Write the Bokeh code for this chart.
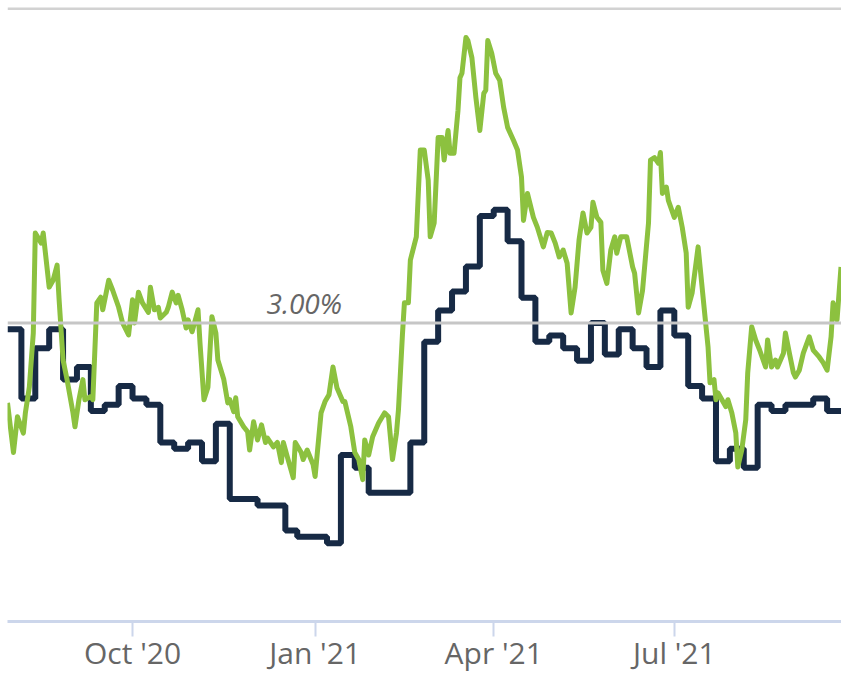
import pandas as pd
from bokeh.plotting import figure
from bokeh.models import Span, Label, FixedTicker, DatetimeTickFormatter, Range1d, ColumnDataSource
from bokeh.embed import file_html
from bokeh.resources import INLINE

# Weekly fixed rate (stepped, navy)
navy_dates = [
    "2020-07-30", "2020-08-06", "2020-08-13", "2020-08-20", "2020-08-27",
    "2020-09-03", "2020-09-10", "2020-09-17", "2020-09-24", "2020-10-01",
    "2020-10-08", "2020-10-15", "2020-10-22", "2020-10-29", "2020-11-05",
    "2020-11-12", "2020-11-19", "2020-11-25", "2020-12-03", "2020-12-10",
    "2020-12-17", "2020-12-23", "2020-12-30", "2021-01-07", "2021-01-14",
    "2021-01-21", "2021-01-28", "2021-02-04", "2021-02-11", "2021-02-18",
    "2021-02-25", "2021-03-04", "2021-03-11", "2021-03-18", "2021-03-25",
    "2021-04-01", "2021-04-08", "2021-04-15", "2021-04-22", "2021-04-29",
    "2021-05-06", "2021-05-13", "2021-05-20", "2021-05-27", "2021-06-03",
    "2021-06-10", "2021-06-17", "2021-06-24", "2021-07-01", "2021-07-08",
    "2021-07-15", "2021-07-22", "2021-07-29", "2021-08-05", "2021-08-12",
    "2021-08-19", "2021-08-26", "2021-09-02", "2021-09-09", "2021-09-16",
    "2021-09-23",
]
navy_rates = [
    2.99, 2.88, 2.96, 2.99, 2.91,
    2.93, 2.86, 2.87, 2.90, 2.88,
    2.87, 2.81, 2.80, 2.81, 2.78,
    2.84, 2.72, 2.72, 2.71, 2.71,
    2.67, 2.66, 2.66, 2.65, 2.79,
    2.77, 2.73, 2.73, 2.73, 2.81,
    2.97, 3.02, 3.05, 3.09, 3.17,
    3.18, 3.13, 3.04, 2.97, 2.98,
    2.96, 2.94, 3.00, 2.95, 2.99,
    2.96, 2.93, 3.02, 2.98, 2.90,
    2.88, 2.78, 2.80, 2.77, 2.87,
    2.86, 2.87, 2.87, 2.88, 2.86,
    2.86,
]

# Daily rate index (green)
green_dates = [
    "2020-07-30", "2020-08-02", "2020-08-04", "2020-08-07", "2020-08-08", "2020-08-10", "2020-08-12", "2020-08-13", "2020-08-16", "2020-08-17",
    "2020-08-20", "2020-08-22", "2020-08-24", "2020-08-25", "2020-08-27", "2020-08-29", "2020-09-01", "2020-09-02", "2020-09-04", "2020-09-06",
    "2020-09-07", "2020-09-10", "2020-09-11", "2020-09-13", "2020-09-15", "2020-09-16", "2020-09-19", "2020-09-21", "2020-09-24", "2020-09-26",
    "2020-09-29", "2020-10-01", "2020-10-02", "2020-10-04", "2020-10-06", "2020-10-09", "2020-10-10", "2020-10-12", "2020-10-14", "2020-10-15",
    "2020-10-18", "2020-10-19", "2020-10-21", "2020-10-23", "2020-10-24", "2020-10-26", "2020-10-28", "2020-10-29", "2020-10-31", "2020-11-03",
    "2020-11-04", "2020-11-06", "2020-11-08", "2020-11-10", "2020-11-12", "2020-11-13", "2020-11-16", "2020-11-18", "2020-11-19", "2020-11-21",
    "2020-11-22", "2020-11-23", "2020-11-26", "2020-11-28", "2020-11-29", "2020-12-01", "2020-12-03", "2020-12-05", "2020-12-07", "2020-12-08",
    "2020-12-11", "2020-12-13", "2020-12-15", "2020-12-16", "2020-12-18", "2020-12-21", "2020-12-22", "2020-12-25", "2020-12-26", "2020-12-28",
    "2020-12-31", "2021-01-01", "2021-01-04", "2021-01-06", "2021-01-08", "2021-01-10", "2021-01-12", "2021-01-15", "2021-01-16", "2021-01-19",
    "2021-01-21", "2021-01-23", "2021-01-25", "2021-01-26", "2021-01-28", "2021-01-30", "2021-02-02", "2021-02-05", "2021-02-07", "2021-02-09",
    "2021-02-11", "2021-02-12", "2021-02-14", "2021-02-15", "2021-02-17", "2021-02-18", "2021-02-21", "2021-02-23", "2021-02-25", "2021-02-27",
    "2021-02-28", "2021-03-02", "2021-03-04", "2021-03-06", "2021-03-07", "2021-03-09", "2021-03-10", "2021-03-12", "2021-03-14", "2021-03-15",
    "2021-03-16", "2021-03-18", "2021-03-19", "2021-03-21", "2021-03-23", "2021-03-25", "2021-03-27", "2021-03-28", "2021-03-29", "2021-03-31",
    "2021-04-02", "2021-04-04", "2021-04-06", "2021-04-08", "2021-04-11", "2021-04-13", "2021-04-15", "2021-04-16", "2021-04-18", "2021-04-21",
    "2021-04-23", "2021-04-26", "2021-04-28", "2021-04-30", "2021-05-02", "2021-05-04", "2021-05-06", "2021-05-08", "2021-05-10", "2021-05-12",
    "2021-05-14", "2021-05-16", "2021-05-18", "2021-05-20", "2021-05-21", "2021-05-23", "2021-05-25", "2021-05-26", "2021-05-28", "2021-05-30",
    "2021-06-01", "2021-06-02", "2021-06-04", "2021-06-07", "2021-06-10", "2021-06-11", "2021-06-13", "2021-06-15", "2021-06-18", "2021-06-19",
    "2021-06-21", "2021-06-23", "2021-06-24", "2021-06-25", "2021-06-27", "2021-06-28", "2021-07-01", "2021-07-03", "2021-07-05", "2021-07-07",
    "2021-07-08", "2021-07-10", "2021-07-13", "2021-07-14", "2021-07-16", "2021-07-18", "2021-07-19", "2021-07-21", "2021-07-22", "2021-07-23",
    "2021-07-25", "2021-07-27", "2021-07-28", "2021-07-30", "2021-08-01", "2021-08-02", "2021-08-04", "2021-08-06", "2021-08-07", "2021-08-09",
    "2021-08-11", "2021-08-13", "2021-08-16", "2021-08-17", "2021-08-19", "2021-08-21", "2021-08-22", "2021-08-25", "2021-08-26", "2021-08-28",
    "2021-08-30", "2021-08-31", "2021-09-02", "2021-09-04", "2021-09-07", "2021-09-09", "2021-09-12", "2021-09-14", "2021-09-16", "2021-09-18",
    "2021-09-19", "2021-09-21", "2021-09-23",
]
green_rates = [
    2.873, 2.794, 2.851, 2.825, 2.857, 2.898, 2.984, 3.143, 3.127, 3.143,
    3.057, 3.068, 3.092, 3.037, 2.941, 2.910, 2.857, 2.835, 2.878, 2.910,
    2.878, 2.883, 2.878, 3.032, 3.041, 3.021, 3.068, 3.052, 3.025, 3.000,
    2.981, 3.037, 3.000, 3.049, 3.032, 3.017, 3.057, 3.021, 3.025, 3.008,
    3.017, 3.025, 3.049, 3.032, 3.044, 3.021, 2.992, 3.005, 2.986, 3.021,
    2.968, 2.878, 2.898, 3.010, 2.984, 2.941, 2.910, 2.873, 2.878, 2.859,
    2.881, 2.851, 2.835, 2.827, 2.798, 2.843, 2.814, 2.838, 2.810, 2.817,
    2.803, 2.810, 2.778, 2.810, 2.787, 2.754, 2.810, 2.794, 2.783, 2.798,
    2.775, 2.756, 2.857, 2.875, 2.886, 2.930, 2.897, 2.875, 2.875, 2.835,
    2.794, 2.783, 2.751, 2.814, 2.790, 2.819, 2.841, 2.857, 2.851, 2.783,
    2.825, 2.862, 2.981, 3.032, 3.032, 3.100, 3.137, 3.275, 3.275, 3.227,
    3.137, 3.159, 3.295, 3.295, 3.259, 3.306, 3.270, 3.270, 3.338, 3.390,
    3.397, 3.454, 3.449, 3.422, 3.359, 3.306, 3.365, 3.370, 3.449, 3.429,
    3.397, 3.386, 3.343, 3.311, 3.290, 3.275, 3.232, 3.163, 3.206, 3.168,
    3.152, 3.121, 3.144, 3.143, 3.127, 3.105, 3.116, 3.095, 3.016, 3.057,
    3.132, 3.175, 3.143, 3.152, 3.192, 3.168, 3.160, 3.084, 3.063, 3.116,
    3.137, 3.111, 3.137, 3.137, 3.089, 3.079, 3.016, 3.052, 3.159, 3.259,
    3.263, 3.254, 3.271, 3.206, 3.216, 3.195, 3.168, 3.184, 3.152, 3.111,
    3.025, 3.048, 3.121, 3.089, 3.025, 2.962, 2.905, 2.910, 2.878, 2.889,
    2.878, 2.867, 2.878, 2.857, 2.825, 2.771, 2.798, 2.846, 2.921, 2.994,
    2.973, 2.957, 2.930, 2.973, 2.930, 2.941, 2.930, 2.952, 2.984, 2.952,
    2.921, 2.914, 2.925, 2.952, 2.978, 2.957, 2.946, 2.937, 2.925, 2.978,
    3.032, 3.005, 3.089,
]

tick_dates = ["2020-10-01", "2021-01-01", "2021-04-01", "2021-07-01"]
ref_level = 3.00
ref_label = "3.00%"
top_level = 3.50

navy_src = ColumnDataSource(dict(x=pd.to_datetime(navy_dates), y=navy_rates))
green_src = ColumnDataSource(dict(x=pd.to_datetime(green_dates), y=green_rates))

x_start = pd.Timestamp("2020-07-30")
x_end = pd.Timestamp("2021-09-23 06:00")

p = figure(
    width=841, height=675,
    x_axis_type="datetime", y_axis_location=None,
    output_backend="svg", toolbar_location=None,
    min_border_left=7, min_border_right=0, min_border_top=7, min_border_bottom=0,
    x_range=Range1d(x_start, x_end),
    y_range=Range1d(2.5254, 3.5016),
)
p.outline_line_color = None
p.xgrid.visible = False
p.ygrid.visible = False
p.background_fill_color = "white"
p.border_fill_color = "white"

p.add_layout(Span(location=top_level, dimension="width", line_color="#d2d2d2", line_width=3))
p.add_layout(Span(location=ref_level, dimension="width", line_color="#c6c6c6", line_width=3))

p.step("x", "y", source=navy_src, mode="after", line_color="#172a45", line_width=6)
p.line("x", "y", source=green_src, line_color="#8cc13f", line_width=5, line_join="round")

lbl_x = pd.Timestamp("2020-12-07 12:00").value / 1e6
p.add_layout(Label(x=lbl_x, y=ref_level, y_offset=1, text=ref_label,
                   text_font="Open Sans", text_font_style="italic", text_font_size="28px",
                   text_color="#666666", text_baseline="bottom", text_align="left"))

ax = p.xaxis[0]
ax.ticker = FixedTicker(ticks=[pd.Timestamp(d).value / 1e6 for d in tick_dates])
fmt = "%b '%y"
ax.formatter = DatetimeTickFormatter(days=fmt, months=fmt, years=fmt, hours=fmt,
                                     minutes=fmt, seconds=fmt, milliseconds=fmt,
                                     microseconds=fmt, hourmin=fmt, minsec=fmt)
ax.axis_line_color = "#ccd6eb"
ax.axis_line_width = 3
ax.major_tick_line_color = "#ccd6eb"
ax.major_tick_line_width = 2
ax.major_tick_in = 0
ax.major_tick_out = 15
ax.minor_tick_line_color = None
ax.major_label_text_font = "Open Sans"
ax.major_label_text_font_size = "30px"
ax.major_label_text_color = "#666666"
ax.major_label_standoff = -5

open("out.html", "w").write(file_html(p, INLINE))
